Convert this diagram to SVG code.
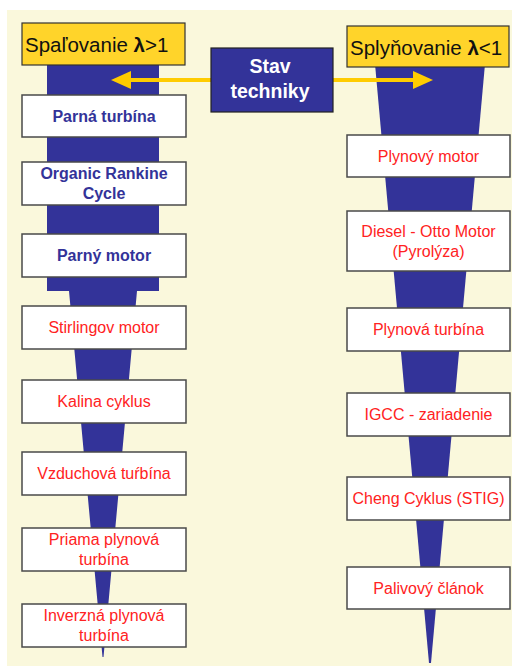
<svg xmlns="http://www.w3.org/2000/svg" width="512" height="666" viewBox="0 0 512 666">
<defs>
<style>
.box{fill:#fff;stroke:#4a4a4a;stroke-width:1.5}
.hdr{fill:#FFD42A;stroke:#333;stroke-width:1.2}
.t{font-family:"Liberation Sans",Arial,sans-serif;font-size:16px;text-anchor:middle}
.b{fill:#333399;font-weight:bold}
.r{fill:#FF2222}
.h{font-family:"Liberation Sans",Arial,sans-serif;font-size:20.5px;fill:#111}
.arr{stroke:#FFCC00;stroke-width:4;stroke-linecap:round}
.ah{fill:#FFCC00}
.col{fill:#333399}
</style>
</defs>
<rect x="0" y="0" width="512" height="666" fill="#ffffff"/>
<rect x="7" y="10" width="505" height="656" fill="#FAF8DC"/>
<g id="columns">
<path class="col" d="M47,62 H159 V291 H137 L103.5,657 L102.5,657 L69,291 H47 Z"/>
<path class="col" d="M375,64 H485 L431,663 L429,663 Z"/>
</g>
<g id="connectors">
<line class="arr" x1="211" y1="80" x2="126" y2="80"/>
<polygon class="ah" points="111,80 131,71 131,89"/>
<line class="arr" x1="333" y1="80" x2="418" y2="80"/>
<polygon class="ah" points="433,80 413,71 413,89"/>
</g>
<g id="hdr-left">
<rect class="hdr" x="22" y="23" width="163" height="42"/>
<text class="h" x="25" y="52">Spaľovanie <tspan font-weight="bold">λ</tspan>&gt;1</text>
</g>
<g id="hdr-right">
<rect class="hdr" x="347" y="26" width="162" height="41"/>
<text class="h" x="350" y="55">Splyňovanie <tspan font-weight="bold">λ</tspan>&lt;1</text>
</g>
<g id="stav">
<rect x="211" y="48" width="122" height="64" fill="#333399" stroke="#222" stroke-width="1.2"/>
<text class="t" x="270" y="73" fill="#fff" font-weight="bold" font-size="19.5px" style="font-size:19.5px">Stav</text>
<text class="t" x="270" y="98" fill="#fff" font-weight="bold" style="font-size:19.5px">techniky</text>
</g>
<g id="l1"><rect class="box" x="22" y="95" width="164" height="42"/><text class="t b" x="104" y="122">Parná turbína</text></g>
<g id="l2"><rect class="box" x="22" y="162" width="164" height="43"/><text class="t b" x="104" y="179">Organic Rankine</text><text class="t b" x="104" y="199">Cycle</text></g>
<g id="l3"><rect class="box" x="22" y="234" width="164" height="43"/><text class="t b" x="104" y="261">Parný motor</text></g>
<g id="l4"><rect class="box" x="22" y="306" width="164" height="43"/><text class="t r" x="104" y="333">Stirlingov motor</text></g>
<g id="l5"><rect class="box" x="22" y="380" width="164" height="43"/><text class="t r" x="104" y="407">Kalina cyklus</text></g>
<g id="l6"><rect class="box" x="22" y="452" width="164" height="43"/><text class="t r" x="104" y="479">Vzduchová tuŕbína</text></g>
<g id="l7"><rect class="box" x="22" y="528" width="164" height="43"/><text class="t r" x="104" y="545">Priama plynová</text><text class="t r" x="104" y="565">turbína</text></g>
<g id="l8"><rect class="box" x="22" y="604" width="164" height="43"/><text class="t r" x="104" y="621">Inverzná plynová</text><text class="t r" x="104" y="641">turbína</text></g>
<g id="r1"><rect class="box" x="347" y="135" width="163" height="42"/><text class="t r" x="428.5" y="162">Plynový motor</text></g>
<g id="r2"><rect class="box" x="347" y="211" width="163" height="60"/><text class="t r" x="428.5" y="237">Diesel - Otto Motor</text><text class="t r" x="428.5" y="257">(Pyrolýza)</text></g>
<g id="r3"><rect class="box" x="347" y="308" width="163" height="43"/><text class="t r" x="428.5" y="335">Plynová turbína</text></g>
<g id="r4"><rect class="box" x="347" y="393" width="163" height="43"/><text class="t r" x="428.5" y="420">IGCC - zariadenie</text></g>
<g id="r5"><rect class="box" x="347" y="477" width="163" height="43"/><text class="t r" x="428.5" y="504">Cheng Cyklus (STIG)</text></g>
<g id="r6"><rect class="box" x="347" y="567" width="163" height="42"/><text class="t r" x="428.5" y="594">Palivový článok</text></g>
</svg>
